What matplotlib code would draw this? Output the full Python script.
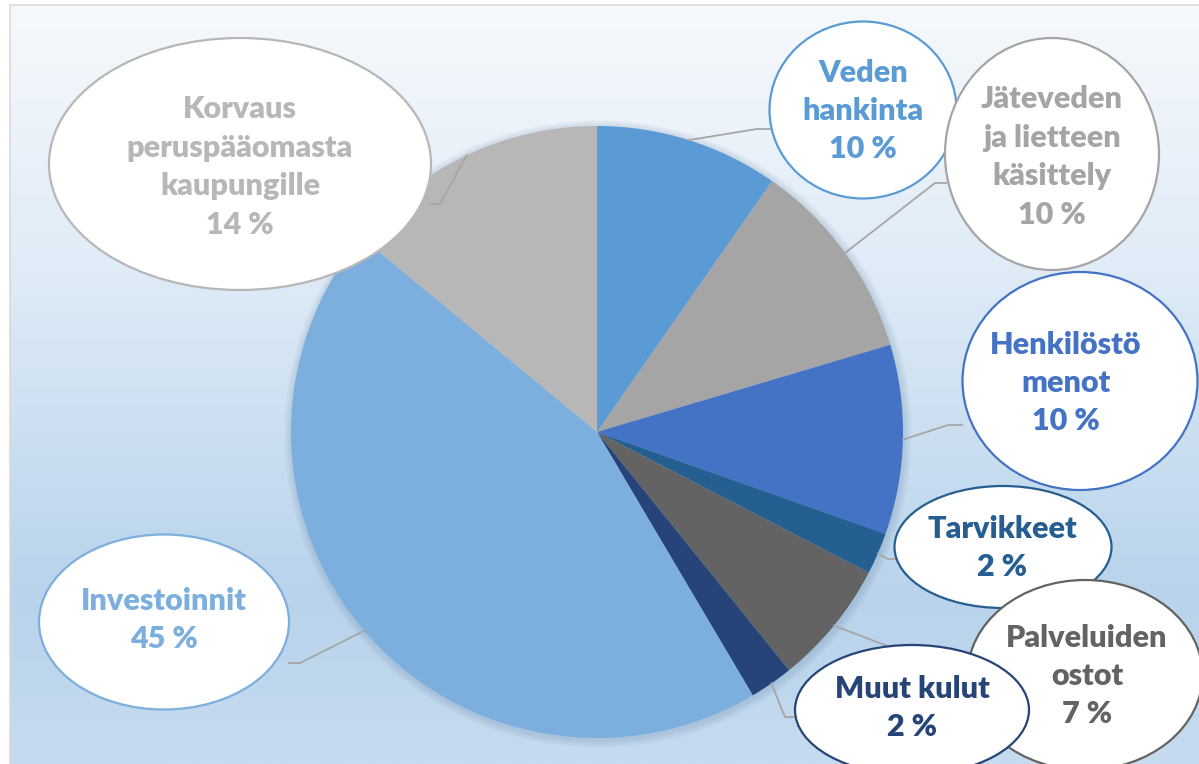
import numpy as np
import matplotlib
matplotlib.use("Agg")
import matplotlib.pyplot as plt
import matplotlib.patches as patches

W, H = 1199, 764

# Data (shares, label text as printed)
labels = ["Veden\nhankinta", "Jäteveden\nja lietteen\nkäsittely", "Henkilöstö\nmenot",
          "Tarvikkeet", "Palveluiden\nostot", "Muut kulut", "Investoinnit",
          "Korvaus\nperuspääomasta\nkaupungille"]
values = [9.7, 10.7, 10.0, 2.2, 6.6, 2.3, 44.5, 14.0]
pct_text = ["10 %", "10 %", "10 %", "2 %", "7 %", "2 %", "45 %", "14 %"]
colors = ["#5B9BD5", "#A5A5A5", "#4472C4", "#255E91", "#636363", "#264478",
          "#7CAFDD", "#B7B7B7"]

# Layout in pixels (x from left, y from top)
center_px = (597, 432)
radius_px = 306
bubble_center = [(863, 110), (1052, 154), (1080, 381), (1003, 547),
                 (1085, 675), (912, 710), (164, 622), (240, 164)]
bubble_size = [(187, 177), (214, 232), (235, 218), (217, 122),
               (235, 190), (234, 130), (250, 175), (382, 252)]
text_center = [(863, 111), (1052, 157), (1066, 383), (1002, 548),
               (1087, 676), (912, 708), (164, 620), (240, 167)]
elbow = [(757, 129), (935, 183), (948, 425), (888, 559),
         (955, 672), (785, 717), (300, 663), (440, 204)]
line_end = [(770, 129), (946, 183), (962, 425), (895, 559),
            (968, 672), (795, 717), (289, 663), (430, 204)]


def P(xy):
    return xy[0], H - xy[1]


fig = plt.figure(figsize=(W / 100, H / 100), dpi=100)
ax = fig.add_axes([0, 0, 1, 1])

# background gradient inside the chart frame
stops = [(0.0, (246, 249, 252)), (0.35, (223, 235, 247)),
         (0.78, (184, 211, 235)), (1.0, (198, 219, 239))]
t = np.linspace(0, 1, 400)
grad = np.zeros((400, 1, 3))
for c in range(3):
    grad[:, 0, c] = np.interp(t, [s[0] for s in stops], [s[1][c] / 255 for s in stops])
ax.imshow(grad, extent=[10, W, 0, H - 5], aspect="auto", zorder=0)
ax.add_patch(patches.Rectangle((10, -2), W, H - 5 + 2, fill=False,
                               edgecolor="#D9D9D9", lw=1.2, zorder=1))

cx, cy = P(center_px)

# soft shadow around the pie
for k in range(8, 0, -1):
    ax.add_patch(patches.Circle((cx + 1, cy - 2), radius_px + k, color="#6f8fb0",
                                alpha=0.035, lw=0, zorder=2))

wedges, _ = ax.pie(values, colors=colors, startangle=90, counterclock=False,
                   center=(cx, cy), radius=radius_px, frame=True,
                   wedgeprops=dict(linewidth=0))
for w in wedges:
    w.set_zorder(3)
ax.set_xlim(0, W)
ax.set_ylim(0, H)
ax.set_aspect("equal")
ax.axis("off")

for i, w in enumerate(wedges):
    mid = np.deg2rad((w.theta1 + w.theta2) / 2)
    sx, sy = cx + radius_px * np.cos(mid), cy + radius_px * np.sin(mid)
    ex, ey = P(elbow[i])
    fx, fy = P(line_end[i])
    ax.plot([sx, ex, fx], [sy, ey, fy], color="#A6A6A6", lw=1.3, zorder=4,
            solid_joinstyle="miter")

for i in range(len(values)):
    bx, by = P(bubble_center[i])
    bw, bh = bubble_size[i]
    ax.add_patch(patches.Ellipse((bx, by), bw, bh, facecolor="white",
                                 edgecolor=colors[i], lw=1.6, zorder=10 + 2 * i))
    tx, ty = P(text_center[i])
    ax.text(tx, ty, labels[i] + "\n" + pct_text[i], ha="center", va="center",
            color=colors[i], fontsize=22, fontweight="heavy", family="Lato",
            linespacing=1.45, zorder=11 + 2 * i)

fig.savefig("out.png", dpi=100)
